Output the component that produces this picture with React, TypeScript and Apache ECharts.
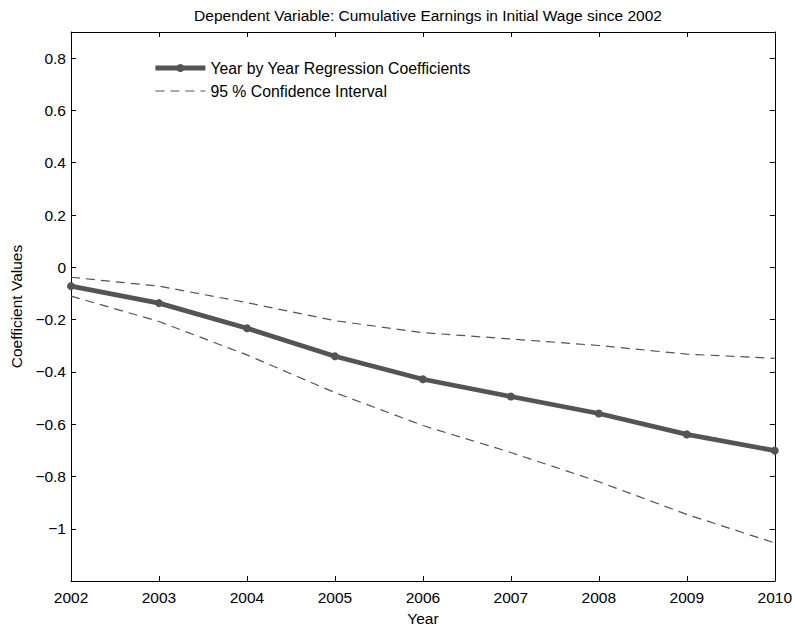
import React, { useEffect, useRef } from "react";
import * as echarts from "echarts";

// Regression results, one value per year
const years = [2002, 2003, 2004, 2005, 2006, 2007, 2008, 2009, 2010];
const coefficients = [-0.072, -0.137, -0.233, -0.34, -0.428, -0.494, -0.559, -0.639, -0.701];
const upperBound = [-0.038, -0.072, -0.135, -0.204, -0.25, -0.274, -0.299, -0.332, -0.348];
const lowerBound = [-0.11, -0.207, -0.335, -0.479, -0.605, -0.708, -0.82, -0.945, -1.054];

const titleText = "Dependent Variable: Cumulative Earnings in Initial Wage since 2002";
const mainName = "Year by Year Regression Coefficients";
const ciName = "95 % Confidence Interval";
const xName = "Year";
const yName = "Coefficient Values";

const FONT = "'Liberation Sans', Arial, Helvetica, sans-serif";
const LINE = "#545454";

const pairs = (vals: number[]) => years.map((y, i) => [y, vals[i]]);

const fmtY = (v: number) => {
  const r = Math.round(v * 10) / 10;
  if (r === 0) return "0";
  return String(r).replace("-", "\u2212");
};

export default function App() {
  const ref = useRef<HTMLDivElement>(null);

  useEffect(() => {
    if (!ref.current) return;
    const chart = echarts.init(ref.current, undefined, { renderer: "svg" });

    const xBase = {
      type: "value" as const,
      min: 2002,
      max: 2010,
      interval: 1,
      splitLine: { show: false },
      axisLine: { show: true, onZero: false, lineStyle: { color: "#000", width: 1 } },
      axisTick: { show: true, inside: true, length: 5, lineStyle: { color: "#000" } },
    };
    const yBase = {
      type: "value" as const,
      min: -1.2,
      max: 0.9,
      interval: 0.2,
      splitLine: { show: false },
      axisLine: { show: true, onZero: false, lineStyle: { color: "#000", width: 1 } },
      axisTick: { show: true, inside: true, length: 5, lineStyle: { color: "#000" } },
    };

    chart.setOption({
      animation: false,
      backgroundColor: "#fff",
      textStyle: { fontFamily: FONT },
      title: {
        text: titleText,
        left: 423,
        textAlign: "center",
        top: 2,
        textStyle: { fontFamily: FONT, fontSize: 15.5, fontWeight: "normal", color: "#000" },
      },
      grid: { left: 71, right: 20, top: 32, bottom: 44, containLabel: false },
      legend: {
        data: [{ name: mainName }, { name: ciName, itemStyle: { opacity: 0 } }],
        orient: "vertical",
        left: 153,
        top: 60,
        padding: 0,
        itemWidth: 50,
        itemHeight: 10,
        itemGap: 7,
        lineStyle: { width: "inherit" },
        textStyle: { fontFamily: FONT, fontSize: 15.8, color: "#000" },
        selectedMode: false,
      },
      xAxis: [
        {
          ...xBase,
          position: "bottom",
          name: xName,
          nameLocation: "middle",
          nameGap: 27,
          nameTextStyle: { fontFamily: FONT, fontSize: 15.5, color: "#000" },
          axisLabel: {
            show: true,
            color: "#000",
            fontFamily: FONT,
            fontSize: 15.5,
            margin: 8,
            formatter: (v: number) => String(v),
          },
        },
        { ...xBase, position: "top", axisLabel: { show: false } },
      ],
      yAxis: [
        {
          ...yBase,
          position: "left",
          name: yName,
          nameLocation: "middle",
          nameGap: 42,
          nameTextStyle: { fontFamily: FONT, fontSize: 15.5, color: "#000" },
          axisLabel: {
            show: true,
            color: "#000",
            fontFamily: FONT,
            fontSize: 15.5,
            margin: 5,
            showMinLabel: false,
            showMaxLabel: false,
            formatter: fmtY,
          },
        },
        { ...yBase, position: "right", axisLabel: { show: false } },
      ],
      series: [
        {
          name: ciName,
          type: "line",
          xAxisIndex: 0,
          yAxisIndex: 0,
          data: pairs(upperBound),
          symbol: "none",
          lineStyle: { color: LINE, width: 1.2, type: [9, 6] },
          itemStyle: { color: LINE },
          z: 2,
        },
        {
          name: ciName,
          type: "line",
          xAxisIndex: 0,
          yAxisIndex: 0,
          data: pairs(lowerBound),
          symbol: "none",
          lineStyle: { color: LINE, width: 1.2, type: [9, 6] },
          itemStyle: { color: LINE },
          z: 2,
        },
        {
          name: mainName,
          type: "line",
          xAxisIndex: 0,
          yAxisIndex: 0,
          data: pairs(coefficients),
          symbol: "circle",
          symbolSize: 8,
          showSymbol: true,
          lineStyle: { color: LINE, width: 4.8 },
          itemStyle: { color: LINE },
          z: 3,
        },
      ],
    });

    return () => chart.dispose();
  }, []);

  return (
    <div
      ref={ref}
      style={{ position: "fixed", left: 0, top: 0, width: 795, height: 631, background: "#fff" }}
    />
  );
}
